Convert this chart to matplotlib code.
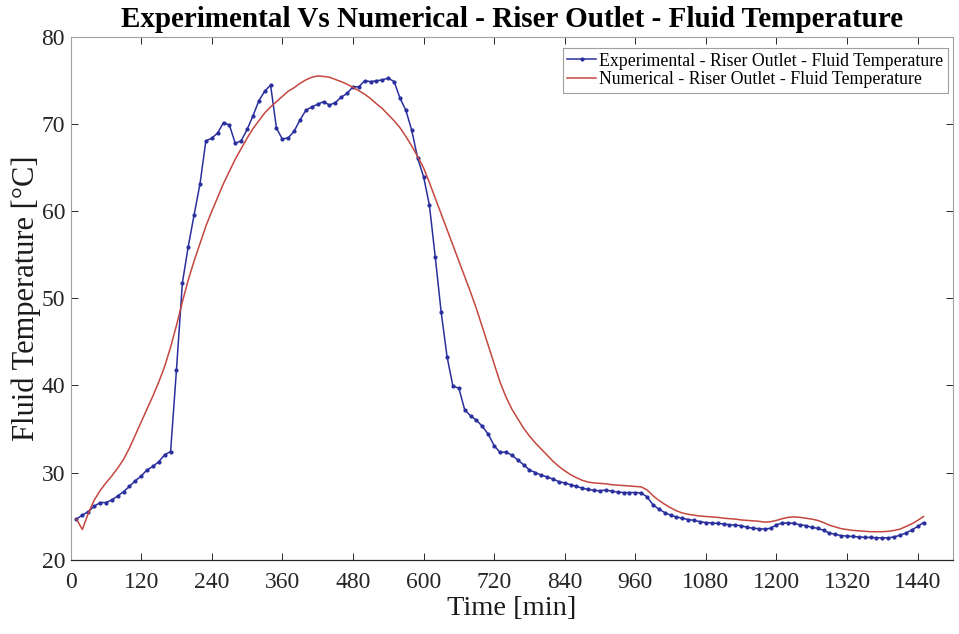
import matplotlib
matplotlib.use('Agg')

import numpy as np
import matplotlib.pyplot as plt

plt.rcParams['font.family'] = 'Liberation Serif'

# time axis, one sample every 10 min
time_min = np.arange(10, 1451, 10)

# experimental riser outlet temperature
exp_temp = [
    24.65, 25.1, 25.5, 26.1, 26.55, 26.55, 26.85, 27.3, 27.8, 28.4,
    29.05, 29.6, 30.3, 30.7, 31.25, 32.05, 32.4, 41.8, 51.75, 55.95,
    59.6, 63.15, 68.1, 68.4, 69.0, 70.2, 69.9, 67.8, 68.1, 69.4,
    70.95, 72.7, 73.8, 74.5, 69.55, 68.3, 68.45, 69.2, 70.5, 71.6,
    72.0, 72.3, 72.6, 72.2, 72.5, 73.1, 73.55, 74.3, 74.3, 75.0,
    74.9, 75.0, 75.1, 75.3, 74.9, 73.0, 71.6, 69.3, 66.1, 64.0,
    60.7, 54.7, 48.4, 43.3, 39.9, 39.7, 37.2, 36.5, 36.0, 35.3,
    34.4, 33.1, 32.3, 32.35, 32.0, 31.45, 30.9, 30.3, 30.0, 29.7,
    29.5, 29.25, 28.95, 28.8, 28.6, 28.4, 28.2, 28.05, 27.95, 27.9,
    28.0, 27.85, 27.75, 27.7, 27.7, 27.7, 27.65, 27.2, 26.3, 25.8,
    25.4, 25.1, 24.9, 24.75, 24.6, 24.5, 24.35, 24.25, 24.2, 24.15,
    24.1, 24.0, 23.95, 23.9, 23.7, 23.6, 23.55, 23.5, 23.6, 24.0,
    24.2, 24.2, 24.15, 24.0, 23.9, 23.7, 23.6, 23.35, 23.05, 22.9,
    22.75, 22.7, 22.65, 22.6, 22.55, 22.55, 22.5, 22.5, 22.5, 22.6,
    22.8, 23.05, 23.4, 23.8, 24.25,
]

# numerical riser outlet temperature
num_temp = [
    24.65, 23.45, 25.3, 26.8, 27.9, 28.8, 29.6, 30.5, 31.5, 32.8,
    34.3, 35.8, 37.3, 38.8, 40.4, 42.2, 44.4, 46.9, 49.6, 52.1,
    54.3, 56.3, 58.3, 60.0, 61.6, 63.2, 64.6, 66.0, 67.2, 68.4,
    69.5, 70.4, 71.3, 72.0, 72.6, 73.2, 73.8, 74.2, 74.7, 75.1,
    75.4, 75.55, 75.5, 75.4, 75.15, 74.9, 74.6, 74.25, 73.85, 73.45,
    72.95, 72.35, 71.8, 71.1, 70.4, 69.6, 68.6, 67.5, 66.3, 65.0,
    63.3, 61.5, 59.7, 57.9, 56.1, 54.3, 52.5, 50.7, 48.8, 46.7,
    44.6, 42.5, 40.4, 38.7, 37.3, 36.2, 35.1, 34.2, 33.4, 32.7,
    32.0, 31.3, 30.7, 30.2, 29.75, 29.4, 29.1, 28.9, 28.8, 28.75,
    28.7, 28.6, 28.55, 28.5, 28.45, 28.4, 28.35, 28.0, 27.35, 26.8,
    26.35, 25.95, 25.6, 25.35, 25.2, 25.1, 25.0, 24.95, 24.9, 24.85,
    24.75, 24.7, 24.65, 24.55, 24.5, 24.45, 24.4, 24.3, 24.35, 24.5,
    24.7, 24.85, 24.9, 24.85, 24.75, 24.65, 24.5, 24.25, 23.95, 23.75,
    23.55, 23.45, 23.35, 23.3, 23.25, 23.2, 23.2, 23.2, 23.25, 23.35,
    23.5, 23.8, 24.1, 24.5, 24.95,
]

x_ticks = np.arange(0, 1441, 120)
y_ticks = np.arange(20, 81, 10)

fig = plt.figure(figsize=(9.59, 6.34), dpi=100)
ax = fig.add_axes([0.0736, 0.1174, 0.9201, 0.8239])

ax.plot(time_min, exp_temp, color='#2a2f9e', lw=1.1, marker='o', ms=2.0,
        label='Experimental - Riser Outlet - Fluid Temperature')
ax.plot(time_min, num_temp, color='#c4473f', lw=1.1,
        label='Numerical - Riser Outlet - Fluid Temperature')

ax.set_xlim(0, 1500)
ax.set_ylim(20, 80)
ax.set_xticks(x_ticks)
ax.set_yticks(y_ticks)
ax.tick_params(direction='in', top=True, right=True, length=5, width=0.7,
               labelsize=17, colors='#262626', pad=4)
ax.tick_params(axis='x', pad=9)
for side in ['left', 'top', 'right']:
    ax.spines[side].set_color('#a0a0a0')
    ax.spines[side].set_linewidth(0.8)
ax.spines['bottom'].set_color('#262626')
ax.spines['bottom'].set_linewidth(0.9)

ax.set_xlabel('Time [min]', fontsize=20.5, color='#1a1a1a', labelpad=2)
ax.set_ylabel('Fluid Temperature [°C]', fontsize=22, color='#1a1a1a', labelpad=0)
ax.set_title('Experimental Vs Numerical - Riser Outlet - Fluid Temperature',
             fontsize=21, fontweight='bold', pad=7)

leg = ax.legend(loc='upper right', bbox_to_anchor=(0.9943, 0.979),
                fontsize=12.8, handlelength=1.6, handletextpad=0.2,
                borderpad=0.25, labelspacing=0.1, borderaxespad=0,
                fancybox=False, framealpha=1)
leg.get_frame().set_edgecolor('#a0a0a0')
leg.get_frame().set_linewidth(0.8)

fig.savefig('out.png', dpi=100)
